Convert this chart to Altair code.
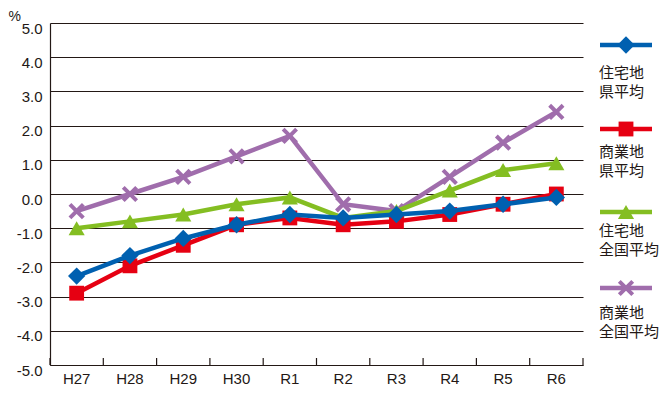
import altair as alt
import pandas as pd

years = ["H27", "H28", "H29", "H30", "R1", "R2", "R3", "R4", "R5", "R6"]
res_pref = [-2.4, -1.8, -1.3, -0.9, -0.6, -0.7, -0.6, -0.5, -0.3, -0.1]
com_pref = [-2.9, -2.1, -1.5, -0.9, -0.7, -0.9, -0.8, -0.6, -0.3, 0.0]
res_nat = [-1.0, -0.8, -0.6, -0.3, -0.1, -0.7, -0.5, 0.1, 0.7, 0.9]
com_nat = [-0.5, 0.0, 0.5, 1.1, 1.7, -0.3, -0.5, 0.5, 1.5, 2.4]

series_names = ["住宅地\n県平均", "商業地\n県平均", "住宅地\n全国平均", "商業地\n全国平均"]
series_values = [res_pref, com_pref, res_nat, com_nat]
colors = ["#0060B0", "#E60012", "#84BE22", "#A06DAC"]
y_ticks = [-5, -4, -3, -2, -1, 0, 1, 2, 3, 4, 5]

W, H = 533, 342
FONT = "Liberation Sans"
JFONT = "Noto Sans CJK JP"
TXT = "#231815"

XPATH = "M-1,-1L1,1M-1,1L1,-1"
marker_props = [
    dict(shape="diamond", size=300, filled=True, opacity=1),
    dict(shape="square", size=220, filled=True, opacity=1),
    dict(shape="triangle-up", size=260, filled=True, opacity=1),
    dict(shape=XPATH, size=180, filled=False, strokeWidth=4, opacity=1),
]

x_scale = alt.Scale(domain=years, paddingInner=0, paddingOuter=0)
x_axis = alt.Axis(title=None, labelFont=FONT, labelFontSize=15, labelColor=TXT,
                  labelPadding=6, tickSize=0, domainColor=TXT, domainWidth=1.2,
                  labelAngle=0, grid=False)
y_scale = alt.Scale(domain=[-5, 5], nice=False)
y_axis = alt.Axis(values=y_ticks, title="%", titleAngle=0, titleAlign="left",
                  labelExpr="(datum.value < 0 ? '-' : '') + format(abs(datum.value), '.1f')",
                  labelOverlap=False,
                  titleBaseline="top", titleX=-42, titleY=-14, titleFont=FONT, titleFontSize=14,
                  titleFontWeight="normal", titleColor=TXT,
                  labelFont=FONT, labelFontSize=15, labelColor=TXT, labelPadding=8,
                  labelOffset=5, tickSize=0, grid=True, gridColor=TXT, gridWidth=1.2,
                  domainColor=TXT, domainWidth=1.2)


def X():
    return alt.X("year:N", sort=years, scale=x_scale, axis=x_axis)


def Y():
    return alt.Y("v:Q", scale=y_scale, axis=y_axis)


layers = []
axis_df = pd.DataFrame({"year": years, "v": res_pref})
layers.append(alt.Chart(axis_df).mark_point(opacity=0).encode(x=X(), y=Y()))

# upward ticks at band boundaries
tick_df = pd.DataFrame({"year": years})
layers.append(alt.Chart(tick_df).mark_rule(color=TXT, strokeWidth=1.2).encode(
    x=alt.X("year:N", sort=years, bandPosition=0),
    y=alt.value(H), y2=alt.value(H - 7)))
layers.append(alt.Chart(pd.DataFrame({"year": [years[-1]]})).mark_rule(color=TXT, strokeWidth=1.2).encode(
    x=alt.X("year:N", sort=years, bandPosition=1),
    y=alt.value(H), y2=alt.value(H - 7)))

# draw order: purple, green, red, blue
for i in [3, 2, 1, 0]:
    df = pd.DataFrame({"year": years, "v": series_values[i]})
    base = alt.Chart(df).encode(x=X(), y=Y())
    layers.append(base.mark_line(color=colors[i], strokeWidth=4.5))
    layers.append(base.mark_point(color=colors[i], **marker_props[i]))

# legend (manual)
leg_line_y = [22, 106, 189, 265]
leg_text_y = [50, 129, 208, 290]
for i in range(4):
    one = pd.DataFrame({"name": [series_names[i]]})
    c = alt.Chart(one)
    layers.append(c.mark_rule(color=colors[i], strokeWidth=4.5).encode(
        x=alt.value(550), x2=alt.value(602), y=alt.value(leg_line_y[i])))
    layers.append(c.mark_point(color=colors[i], **marker_props[i]).encode(
        x=alt.value(576), y=alt.value(leg_line_y[i])))
    layers.append(c.mark_text(align="left", baseline="middle", font=JFONT, fontSize=15,
                              lineHeight=19, color=TXT, lineBreak="\n").encode(
        text="name:N", x=alt.value(549), y=alt.value(leg_text_y[i])))

chart = alt.layer(*layers).properties(
    width=W, height=H,
    autosize=alt.AutoSizeParams(type="none"),
    padding={"left": 42, "top": 15, "right": 78, "bottom": 26},
).configure(background="white").configure_view(strokeWidth=0, stroke="transparent")

chart.save("out.html", embed_options={"renderer": "svg", "actions": False})
